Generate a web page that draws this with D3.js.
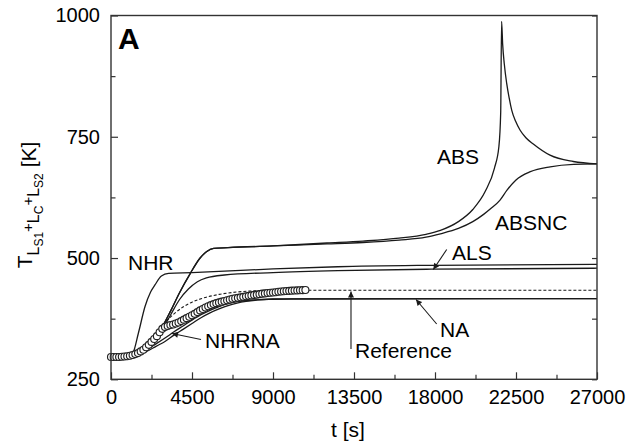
<!DOCTYPE html>
<html><head><meta charset="utf-8">
<script src="https://cdn.jsdelivr.net/npm/d3@7"></script>
<style>body{margin:0;background:#fff}svg{display:block;font-family:"Liberation Sans",Arial,sans-serif}</style>
</head><body>
<svg id="c" width="637" height="445"></svg>
<script>
// ---- data ----
const xMajor = [0, 4500, 9000, 13500, 18000, 22500, 27000];
const xMinor = [2250, 6750, 11250, 15750, 20250, 24750];
const yMajor = [250, 500, 750, 1000];
const yMinor = [375, 625, 875];

const absData = [[0,296],[800,297],[1300,300],[1800,310],[2300,328],[2800,355],[3300,390],[3800,428],[4400,468],[4950,500],[5300,513],[5700,520],[6500,521.5],[9000,525],[12000,531],[14000,535],[16000,541],[17500,549],[18300,557],[19300,575],[20100,600],[20800,638],[21300,685],[21550,730],[21650,800],[21700,988],[21760,940],[21850,900],[21983,860],[22120,830],[22261,805],[22480,782],[22722,764],[23050,748],[23461,735],[24389,712],[25683,699],[27000,694]];
const absncData = [[0,296],[800,297],[1300,300],[1800,310],[2300,328],[2800,355],[3300,390],[3800,428],[4400,468],[4950,500],[5300,513],[5700,520],[6500,521.5],[9000,525],[12000,529],[14000,532],[16000,537],[17500,543],[18300,550],[19300,561],[20100,575],[20700,590],[21100,602],[21600,619],[22000,640],[22500,661],[23300,678],[24400,688],[25700,693],[27000,694]];
const nhrData = [[0,296],[900,298],[1220,305],[1520,345],[1890,400],[2200,430],[2450,445],[2800,463],[3200,468.5],[4500,470],[6300,473],[9000,477.5],[12600,482],[17800,485],[27000,487]];
const alsData = [[0,296],[800,297],[1500,302],[2200,322],[2800,350],[3300,382],[3800,414],[4300,436],[4800,451],[5300,459],[6300,465],[9000,470],[12600,474],[17800,477],[27000,479]];
const naData = [[0,296],[1000,297],[1500,300],[2000,308],[2500,318],[3000,328],[3500,341],[4000,353],[4500,365],[5000,377],[5500,387],[6000,395],[6500,402],[7000,407],[7500,410.5],[8000,413],[9000,415],[10000,416],[27000,416.5]];
const nhrnaData = [[0,296],[1000,298],[1500,302],[2000,312],[2500,323],[3000,335],[3500,348],[4000,360],[4500,372],[5000,383],[5500,392],[6000,400],[6500,406],[7000,410],[8000,413.5],[9000,415.5],[27000,416.5]];
const refData = [[0,296],[1000,298],[1500,305],[2000,322],[2500,345],[3000,367],[3500,385],[4000,399],[4500,409],[5000,416],[6000,425],[7000,430],[8000,432.5],[9000,433.5],[10000,433.7],[27000,433.7]];

const expStep = 150;
const expValues = [296,296,296,296,296.5,297,297.5,298.5,300,302,304,307.5,311,316,321,327,333,339,347,354,358,360,362,363,365,367,370,373,376,379,382,385,388.5,392,395,398,400.5,403,405,407,408.5,410,411.5,413,414.5,416,417,418,419,420,421,422,423,424,424.5,425.5,426.5,427,428,428.5,429,429.5,430.5,431,431.5,432,432.3,432.7,433,433.3,433.5,433.8,434];

const labels = [
  {text:"NHR", t:944, v:475},
  {text:"NHRNA", t:5222, v:314.5},
  {text:"ABS", t:18111, v:694.8},
  {text:"ABSNC", t:21333, v:557.8},
  {text:"ALS", t:18944, v:496},
  {text:"NA", t:18278, v:337},
  {text:"Reference", t:13556, v:294}
];
const arrows = [
  {from:[18650,517.6], to:[17906,476.3]},
  {from:[18094,364], to:[16944,414.5]},
  {from:[13333,312.5], to:[13333,431]},
  {from:[5000,332], to:[3389,344.4]}
];

// ---- chart ----
const svg = d3.select("#c");
const L = 111, R = 597, T = 15.5, B = 379.3;
const x = d3.scaleLinear([0, 27000], [L, R]);
const y = d3.scaleLinear([250, 1000], [B, T]);
const ink = "#1a1a1a";

const defs = svg.append("defs");
defs.append("marker").attr("id","ah").attr("viewBox","0 0 10 10").attr("refX",10).attr("refY",5)
  .attr("markerWidth",8).attr("markerHeight",6).attr("markerUnits","userSpaceOnUse").attr("orient","auto")
  .append("path").attr("d","M0,0L10,5L0,10Z").attr("fill",ink);

function styleAxis(g){ g.select(".domain").remove(); g.selectAll(".tick line").attr("stroke","#333").attr("stroke-width",1.2); }

// bottom axis
svg.append("g").attr("transform",`translate(0,${B})`)
  .call(d3.axisBottom(x).tickValues(xMajor).tickSize(-7).tickPadding(10.5).tickFormat(d3.format("d")))
  .call(styleAxis)
  .call(g=>g.selectAll("text").attr("font-size",20).attr("fill","#000").attr("font-family","Liberation Sans, Arial, sans-serif"));
svg.append("g").attr("transform",`translate(0,${B})`)
  .call(d3.axisBottom(x).tickValues(xMinor).tickSize(-4.5).tickFormat(""))
  .call(styleAxis);
// left axis
svg.append("g").attr("transform",`translate(${L},0)`)
  .call(d3.axisLeft(y).tickValues(yMajor).tickSize(-7).tickPadding(11).tickFormat(d3.format("d")))
  .call(styleAxis)
  .call(g=>g.selectAll("text").attr("font-size",20).attr("fill","#000").attr("font-family","Liberation Sans, Arial, sans-serif"));
svg.append("g").attr("transform",`translate(${L},0)`)
  .call(d3.axisLeft(y).tickValues(yMinor).tickSize(-4.5).tickFormat(""))
  .call(styleAxis);
// right axis ticks
svg.append("g").attr("transform",`translate(${R},0)`)
  .call(d3.axisRight(y).tickValues(yMajor.concat(yMinor)).tickSize(-5).tickFormat(""))
  .call(styleAxis);

// curves
const line = d3.line().x(d=>x(d[0])).y(d=>y(d[1])).curve(d3.curveMonotoneX);
[nhrData, alsData, naData, nhrnaData, absncData, absData].forEach(s=>{
  svg.append("path").attr("d", line(s)).attr("fill","none").attr("stroke",ink).attr("stroke-width",1.3);
});
svg.append("path").attr("d", line(refData)).attr("fill","none").attr("stroke",ink)
  .attr("stroke-width",1.1).attr("stroke-dasharray","3,2");

// experimental circles
svg.append("g").selectAll("circle").data(expValues).join("circle")
  .attr("cx",(d,i)=>x(i*expStep)).attr("cy",d=>y(d)).attr("r",3.5)
  .attr("fill","#fff").attr("stroke","#222").attr("stroke-width",1.15);

// frame
svg.append("rect").attr("x",L).attr("y",T).attr("width",R-L).attr("height",B-T)
  .attr("fill","none").attr("stroke","#333").attr("stroke-width",1.4);

// arrows
arrows.forEach(a=>{
  svg.append("line").attr("x1",x(a.from[0])).attr("y1",y(a.from[1])).attr("x2",x(a.to[0])).attr("y2",y(a.to[1]))
    .attr("stroke",ink).attr("stroke-width",1.1).attr("marker-end","url(#ah)");
});

// labels
labels.forEach(l=>{
  svg.append("text").attr("x",x(l.t)).attr("y",y(l.v)).attr("font-size",21).attr("fill","#000").text(l.text);
});
svg.append("text").attr("x",x(389)).attr("y",y(930.9)).attr("font-size",30).attr("font-weight","bold").attr("fill","#000").text("A");

// axis titles
svg.append("text").attr("x",(L+R)/2 - 6).attr("y",437).attr("text-anchor","middle").attr("font-size",21).attr("fill","#000").text("t [s]");
const yt = svg.append("text").attr("transform","translate(32,205) rotate(-90)").attr("text-anchor","middle").attr("fill","#000").attr("font-size",21);
yt.append("tspan").text("T");
yt.append("tspan").attr("font-size",16).attr("dy",7).text("L");
yt.append("tspan").attr("font-size",12).attr("dy",4).text("S1");
yt.append("tspan").attr("font-size",15).attr("dy",-10).text("+");
yt.append("tspan").attr("font-size",16).attr("dy",6).text("L");
yt.append("tspan").attr("font-size",12).attr("dy",4).text("C");
yt.append("tspan").attr("font-size",15).attr("dy",-10).text("+");
yt.append("tspan").attr("font-size",16).attr("dy",6).text("L");
yt.append("tspan").attr("font-size",12).attr("dy",4).text("S2");
yt.append("tspan").attr("font-size",21).attr("dy",-7).text(" [K]");
</script>
</body></html>
